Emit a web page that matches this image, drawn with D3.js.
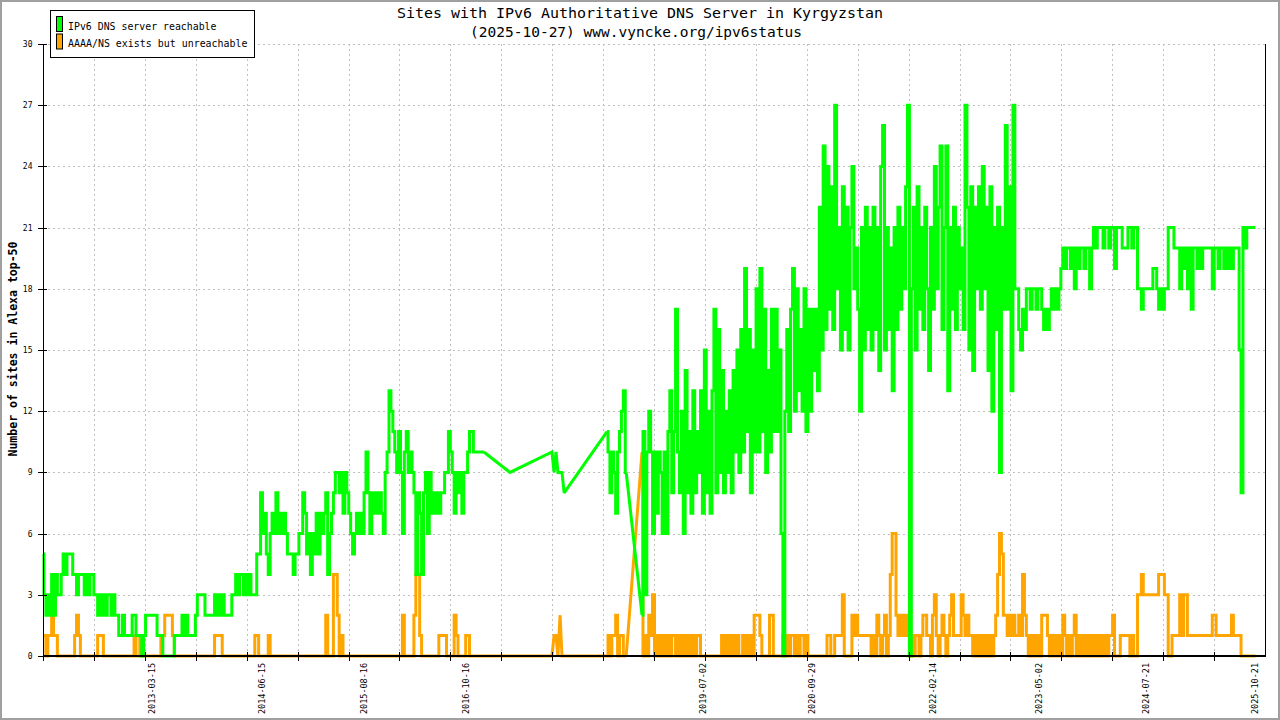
<!DOCTYPE html>
<html><head><meta charset="utf-8">
<script src="https://cdn.jsdelivr.net/npm/d3@7"></script>
<style>
body{margin:0;background:#fff}
svg{display:block}
text{font-family:"DejaVu Sans Mono",monospace;fill:#000}
</style>
</head><body>
<svg id="chart" width="1280" height="720"></svg>
<script>
// ---------------- data ----------------
const titleLines = ["Sites with IPv6 Authoritative DNS Server in Kyrgyzstan", "(2025-10-27) www.vyncke.org/ipv6status"];
const yAxisTitle = "Number of sites in Alexa top-50";
const seriesNames = ["IPv6 DNS server reachable", "AAAA/NS exists but unreachable"];
const seriesColors = ["#00ff00", "#ffa500"];
const xDomain = ["2011-12-16", "2025-12-02"];
const yTicks = [0, 3, 6, 9, 12, 15, 18, 21, 24, 27, 30];
const xTickLabels = ["2013-03-15", "2014-06-15", "2015-08-16", "2016-10-16", "2019-07-02", "2020-09-29", "2022-02-14", "2023-05-02", "2024-07-21", "2025-10-21"];

// samples every 8 days; day offsets counted from xDomain[0]
const stepDays = 8;
const startDayA = 0;
const greenA = [
 5,3,2,3,2,4,2,4,3,3, 4,5,4,5,5,5,4,4,3,4, 4,4,3,4,3,4,4,3,3,2, 3,2,3,2,3,3,2,3,2,2,
 1,1,2,1,1,1,1,2,2,1, 1,1,0,1,2,2,2,2,2,2, 1,1,1,0,0,0,0,0,0,1, 1,1,1,2,1,2,1,1,1,1,
 2,3,3,3,3,2,2,2,2,2, 3,2,3,2,3,2,2,2,2,3, 3,4,3,4,4,3,4,3,4,3, 3,3,5,5,8,6,7,5,4,6,
 7,6,8,6,7,6,7,6,5,5, 5,4,5,5,6,6,8,7,5,6, 4,6,5,7,5,7,6,7,8,4, 6,7,8,9,9,8,9,7,9,8,
 7,6,5,6,7,6,7,6,8,10, 8,6,8,7,8,7,8,7,6,9, 10,13,12,11,10,9,11,9,6,10, 11,9,10,9,8,4,8,7,4,8,
 9,6,9,7,8,7,8,7,8,8, 9,9,11,10,9,7,9,8,9,7, 9,9,10,11,11,10,10,10,10,10, 10
];
const orangeA = [
 1,1,0,1,1,2,1,1,0,0, 0,0,0,0,0,0,0,1,2,1, 0,0,0,0,0,0,0,0,0,1, 1,1,0,0,0,0,0,0,0,0,
 0,0,0,0,0,0,0,0,1,0, 0,1,0,0,0,0,0,0,0,0, 0,0,1,1,2,2,2,2,1,0, 0,0,0,0,0,0,0,0,0,0,
 0,0,0,0,0,0,0,0,0,0, 1,1,1,1,0,0,0,0,0,0, 0,0,0,0,0,0,0,0,0,0, 0,1,1,0,0,0,0,0,1,0,
 0,0,0,0,0,0,0,0,0,0, 0,0,0,0,0,0,0,0,0,0, 0,0,0,0,0,0,0,0,2,0, 0,0,4,4,2,0,1,0,0,0,
 0,0,0,0,0,0,0,0,0,0, 0,0,0,0,0,0,0,0,0,0, 0,0,0,0,0,0,0,0,2,0, 0,0,0,0,2,4,4,1,0,0,
 0,0,0,0,0,0,0,1,1,1, 1,0,0,0,0,2,1,0,0,0, 0,1,1,0,0,0,0,0,0,0, 0
];
// sparse samples (2017)
const gapDays = [1949, 2124, 2133, 2141, 2149, 2158, 2166, 2175];
const greenGap = [9, 10, 9, 10, 9, 9, 9, 8];
const orangeGap = [0, 0, 1, 1, 0, 2, 0, 0];
// 2018 block
const startDayB = 2354;
const greenB = [11,10,8,10,9,7,10,11,12,13,9];
const orangeB = [0,1,0,1,1,2,0,1,1,0,0];
// from late 2018 to the end
const startDayC = 2500;
const greenC = [
 2,11,3,10,12,10,6,10,7,10, 9,6,10,6,11,13,8,11,17,10, 8,12,6,14,8,11,7,13,8,11, 9,13,7,15,8,12,7,13,17,8,
 16,9,14,8,12,9,13,8,14,10, 15,9,16,10,19,11,16,8,15,10, 18,10,19,11,17,9,14,10,17,11, 17,11,15,6,0,12,16,11,17,19,
 12,18,13,16,12,18,11,17,12,17, 14,17,13,22,15,25,16,24,17,23, 16,27,18,21,15,23,16,22,15,21, 24,18,20,17,12,21,15,22,16,21,
 15,22,16,21,14,24,26,15,21,16, 20,13,21,16,22,17,21,18,23,27, 0,18,22,15,23,17,21,16,22,18, 14,21,17,24,18,22,25,16,21,25,
 13,21,17,22,16,21,18,20,16,27, 22,15,23,14,22,18,23,17,24,18, 22,14,23,12,21,16,22,9,21,17, 26,17,23,13,27,18,18,16,15,17,
 16,18,18,17,18,18,17,18,18,17, 16,17,16,17,18,17,18,17,18,19, 20,19,20,20,19,20,18,20,19,20, 20,19,20,20,18,20,21,20,21,21,
 21,20,21,21,20,21,21,19,21,21, 21,20,20,20,21,21,20,21,21,18, 18,17,18,18,18,18,18,19,19,18, 17,18,17,18,18,21,21,21,20,20,
 20,18,20,19,20,18,20,17,20,20, 19,20,19,20,20,20,20,20,18,20, 20,19,20,20,19,20,19,20,19,20, 20,20,15,8,21,20,21,21,21,21, 21
];
const orangeC = [
 10,0,1,0,2,1,3,0,1,0, 1,0,1,0,1,0,1,1,0,1, 0,1,0,1,0,1,0,1,0,1, 1,0,0,0,0,0,0,0,0,0,
 0,0,1,0,1,0,1,0,1,0, 1,0,0,1,0,1,0,1,0,2, 2,2,1,0,0,0,0,2,2,0, 0,0,0,0,1,0,1,0,1,1,
 0,1,0,1,1,0,1,0,0,0, 0,0,0,0,0,0,0,1,1,0, 0,1,1,1,1,3,0,0,0,0, 2,1,2,1,1,1,1,1,1,1,
 0,1,0,2,1,0,1,2,0,1, 4,6,6,2,1,2,1,2,1,2, 0,1,0,1,1,0,1,2,2,1, 1,0,2,3,1,0,1,2,1,0,
 1,2,3,1,1,1,1,3,2,1, 2,1,1,0,1,0,1,0,1,0, 1,0,1,0,1,2,4,6,5,2, 2,1,2,1,2,1,1,2,1,4,
 2,1,0,1,0,1,0,1,0,2, 2,2,1,0,1,0,1,0,1,0, 2,1,0,1,0,1,2,0,1,0, 1,0,1,0,1,0,1,0,1,0,
 1,0,1,0,1,1,2,0,0,0, 1,1,1,1,1,0,1,0,0,3, 3,4,3,3,3,3,3,3,3,3, 4,4,4,3,3,0,0,1,1,1,
 1,3,1,3,3,1,1,1,1,1, 1,1,1,1,1,1,1,1,2,2, 1,1,1,1,1,1,1,1,2,1, 1,1,1,0,0,0,0,0,0,0, 0
];

// ---------------- drawing ----------------
const svg = d3.select("#chart");
const W = 1280, H = 720;
const M = {left: 43, right: 1265, top: 44, bottom: 656};
const parse = d3.utcParse("%Y-%m-%d");
const t0 = parse(xDomain[0]), t1 = parse(xDomain[1]);
const x = d3.scaleUtc().domain([t0, t1]).range([M.left, M.right]);
const y = d3.scaleLinear().domain([0, 30]).range([M.bottom, M.top]);

svg.append("rect").attr("width", W).attr("height", H).attr("fill", "#fff");
svg.append("rect").attr("x", 1).attr("y", 1).attr("width", W - 2).attr("height", H - 2)
  .attr("fill", "none").attr("stroke", "#a0a0a0").attr("stroke-width", 2);

// grid
const gridG = svg.append("g").attr("stroke", "#c0c0c0").attr("stroke-width", 1)
  .attr("stroke-dasharray", "2,3").attr("shape-rendering", "crispEdges");
yTicks.filter(v => v > 0).forEach(v => {
  gridG.append("line").attr("x1", M.left).attr("x2", M.right)
    .attr("y1", Math.round(y(v)) + 0.5).attr("y2", Math.round(y(v)) + 0.5);
});
const nGrid = 24;
const gridDates = d3.range(1, nGrid).map(k => new Date(+t0 + k * (t1 - t0) / nGrid));
gridDates.forEach(d => {
  const gx = Math.round(x(d)) + 0.5;
  gridG.append("line").attr("x1", gx).attr("x2", gx).attr("y1", M.top).attr("y2", M.bottom);
});

// series
const dayDate = d => d3.utcDay.offset(t0, d);
function seg(startDay, vals) { return vals.map((v, i) => ({date: dayDate(startDay + i * stepDays), v})); }
function pieces(a, gap, b, c) {
  const A = seg(startDayA, a), B = seg(startDayB, b), C = seg(startDayC, c);
  const G = gapDays.map((d, i) => ({date: dayDate(d), v: gap[i]}));
  return [
    {pts: A, curve: d3.curveStep},
    {pts: [A[A.length - 1], ...G, B[0]], curve: d3.curveLinear},
    {pts: B, curve: d3.curveStep},
    {pts: [B[B.length - 1], C[0]], curve: d3.curveLinear},
    {pts: C, curve: d3.curveStep}
  ];
}
const seriesData = [
  pieces(greenA, greenGap, greenB, greenC),
  pieces(orangeA, orangeGap, orangeB, orangeC)
];
// orange below, green on top
[1, 0].forEach(si => {
  const g = svg.append("g");
  seriesData[si].forEach(p => {
    const line = d3.line().x(d => x(d.date)).y(d => y(d.v)).curve(p.curve);
    g.append("path").attr("d", line(p.pts)).attr("fill", "none")
      .attr("stroke", seriesColors[si]).attr("stroke-width", 3)
      .attr("stroke-linejoin", "miter").attr("stroke-miterlimit", 2);
  });
});

// axes
const axG = svg.append("g").attr("stroke", "#000").attr("shape-rendering", "crispEdges");
axG.append("line").attr("x1", M.left + 0.5).attr("x2", M.left + 0.5).attr("y1", M.top).attr("y2", M.bottom + 1).attr("stroke-width", 1.5);
axG.append("line").attr("x1", M.right + 0.5).attr("x2", M.right + 0.5).attr("y1", M.top).attr("y2", M.bottom + 1).attr("stroke-width", 1.5);
axG.append("line").attr("x1", M.left).attr("x2", M.right + 1).attr("y1", M.bottom).attr("y2", M.bottom).attr("stroke-width", 2);
yTicks.forEach(v => {
  const ty = Math.round(y(v)) + 0.5;
  axG.append("line").attr("x1", M.left - 5).attr("x2", M.left + 4).attr("y1", ty).attr("y2", ty).attr("stroke-width", 1);
});
[t0, ...gridDates].forEach(d => {
  const tx = Math.round(x(d)) + 0.5;
  axG.append("line").attr("x1", tx).attr("x2", tx).attr("y1", M.bottom - 4).attr("y2", M.bottom + 5).attr("stroke-width", 1.2);
});

// y tick labels
svg.append("g").selectAll("text").data(yTicks).join("text")
  .attr("x", 32.5).attr("y", v => y(v) + 2.9)
  .attr("text-anchor", "end").attr("font-size", "8px").text(v => v);

// x tick labels
svg.append("g").selectAll("text").data(xTickLabels).join("text")
  .attr("transform", s => `translate(${x(parse(s)) + 3.1},663) rotate(-90)`)
  .attr("text-anchor", "end").attr("font-size", "8.5px")
  .attr("textLength", 51).attr("lengthAdjust", "spacingAndGlyphs").text(s => s);

// y axis title
svg.append("text").attr("transform", "translate(16.5,349) rotate(-90)")
  .attr("text-anchor", "middle").attr("font-size", "11.5px").attr("font-weight", "bold")
  .attr("textLength", 215).attr("lengthAdjust", "spacingAndGlyphs").text(yAxisTitle);

// title
svg.append("text").attr("x", 397).attr("y", 18.3).attr("font-size", "14px")
  .attr("textLength", 486).attr("lengthAdjust", "spacingAndGlyphs").text(titleLines[0]);
svg.append("text").attr("x", 470).attr("y", 36.7).attr("font-size", "14px")
  .attr("textLength", 332).attr("lengthAdjust", "spacingAndGlyphs").text(titleLines[1]);

// legend
const lg = svg.append("g");
lg.append("rect").attr("x", 50.5).attr("y", 10.5).attr("width", 204).attr("height", 47)
  .attr("fill", "#fff").attr("stroke", "#000").attr("stroke-width", 1);
const legendLens = [148.5, 179.5];
seriesNames.forEach((name, i) => {
  const yy = 16.5 + i * 17.5;
  lg.append("rect").attr("x", 56.5).attr("y", yy).attr("width", 6).attr("height", 15)
    .attr("fill", seriesColors[i]).attr("stroke", "#000").attr("stroke-width", 1);
  lg.append("text").attr("x", 68).attr("y", yy + 13.3).attr("font-size", "11px")
    .attr("textLength", legendLens[i]).attr("lengthAdjust", "spacingAndGlyphs").text(name);
});
</script>
</body></html>
